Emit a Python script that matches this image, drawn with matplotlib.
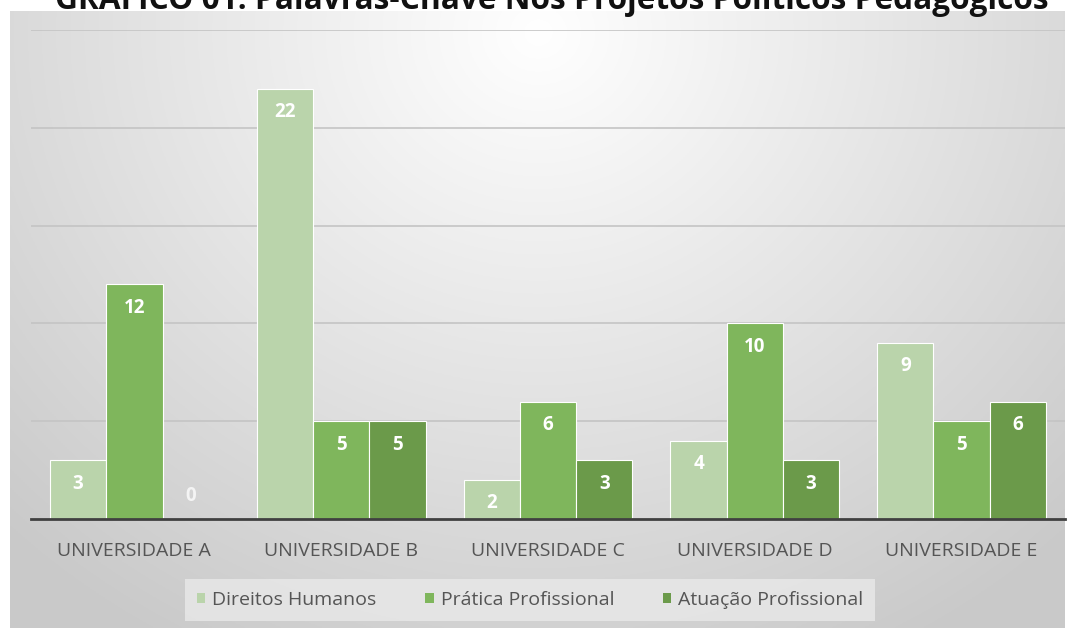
import numpy as np
import matplotlib
matplotlib.use('Agg')
import matplotlib.pyplot as plt
from matplotlib.patches import Patch

universidades = ['UNIVERSIDADE A', 'UNIVERSIDADE B', 'UNIVERSIDADE C',
                 'UNIVERSIDADE D', 'UNIVERSIDADE E']
series_names = ['Direitos Humanos', 'Prática Profissional', 'Atuação Profissional']
direitos = [3, 22, 2, 4, 9]
pratica = [12, 5, 6, 10, 5]
atuacao = [0, 5, 3, 3, 6]
cores = ['#bad4ab', '#7fb65c', '#6b9a4a']

plt.rcParams['font.family'] = ['Open Sans', 'DejaVu Sans']

W, H = 1071, 628
fig = plt.figure(figsize=(W / 100, H / 100), dpi=100)

# fundo com gradiente radial (painel do grafico)
bg = fig.add_axes([10 / W, 0, 1 - 16 / W, 1 - 11 / H])
yy, xx = np.mgrid[0:300, 0:500]
cx, cy = 250, 10
d = np.sqrt(((xx - cx) / 360.0) ** 2 + ((yy - cy) / 340.0) ** 2)
d = np.clip(d, 0, 1)
grad = 1.0 - 0.21 * d
bg.imshow(np.dstack([grad, grad, grad]), aspect='auto', extent=[0, 1, 0, 1])
bg.axis('off')

ax = fig.add_axes([31 / W, (H - 519) / H, 1034 / W, 489 / H])
ax.patch.set_alpha(0)

x = np.arange(len(universidades))
w = 0.272
dados = [direitos, pratica, atuacao]
for i, (vals, cor) in enumerate(zip(dados, cores)):
    pos = x + (i - 1) * w
    ax.bar(pos, vals, w, color=cor, edgecolor='white', linewidth=0.8, zorder=3)
    for p, v in zip(pos, vals):
        if v > 0:
            ax.text(p, v - 1.2, str(v), ha='center', va='center', color='white',
                    fontsize=13.5, fontweight='bold', zorder=4)
        else:
            ax.text(p, 1.2, str(v), ha='center', va='center', color='#f4f4f4',
                    fontsize=13.5, fontweight='bold', zorder=4)

ax.set_xlim(-0.5, 4.5)
ax.set_ylim(0, 25)
ax.set_yticks([5, 10, 15, 20, 25])
ax.yaxis.grid(True, color='#c4c4c4', linewidth=1.2, zorder=0)
ax.tick_params(axis='y', left=False, labelleft=False)
ax.tick_params(axis='x', bottom=False, pad=13)
ax.set_xticks(x)
ax.set_xticklabels(universidades, fontsize=14, color='#555555')
for s in ['top', 'right', 'left']:
    ax.spines[s].set_visible(False)
ax.spines['bottom'].set_color('#404040')
ax.spines['bottom'].set_linewidth(2)
ax.spines['bottom'].set_zorder(5)

handles = [Patch(facecolor=c, edgecolor='none') for c in cores]
leg = fig.legend(handles, series_names, loc='center', bbox_to_anchor=(530 / W, 1 - 600 / H),
                 ncol=3, frameon=True, fontsize=14, handlelength=0.45, handleheight=0.45,
                 handletextpad=0.35, columnspacing=2.5, borderpad=0.6, labelcolor='#555555')
leg.get_frame().set_facecolor('#e9e9e9')
leg.get_frame().set_edgecolor('none')
leg.get_frame().set_alpha(0.8)
leg.get_frame().set_boxstyle('square', pad=0.0)

fig.text(552 / W, 1 - 9 / H, 'GRÁFICO 01: Palavras-Chave Nos Projetos Políticos Pedagógicos',
         ha='center', va='baseline', fontsize=22.8, fontweight='bold', color='#111111')

fig.savefig('out.png', dpi=100)
